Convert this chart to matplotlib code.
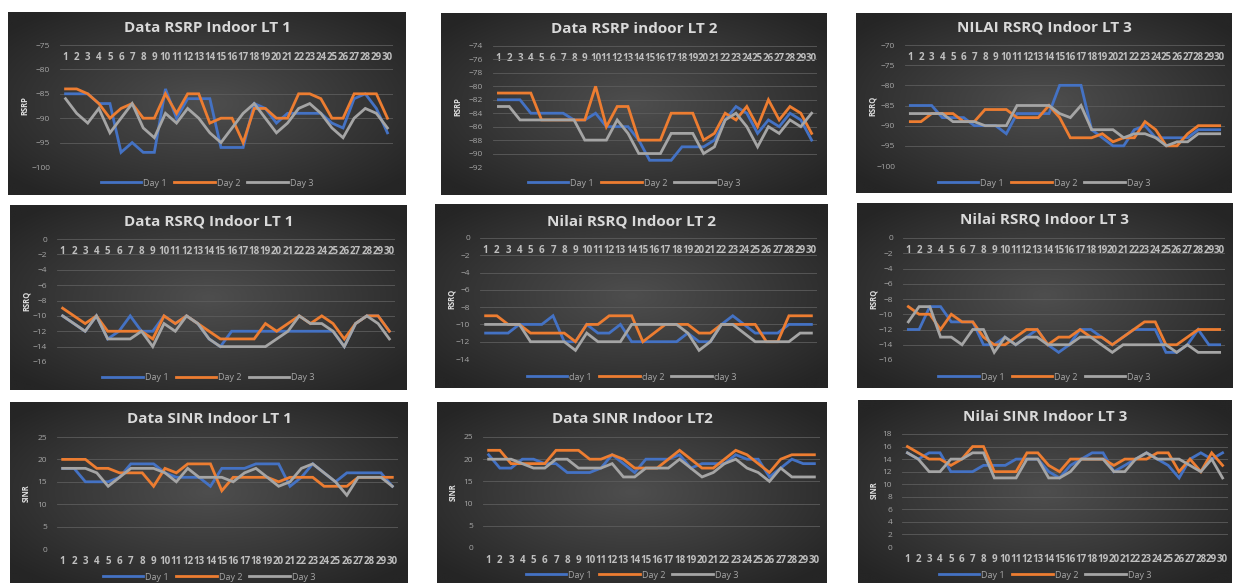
import numpy as np
import matplotlib
matplotlib.use("Agg")
import matplotlib.pyplot as plt
from matplotlib.colors import LinearSegmentedColormap

plt.rcParams['font.family'] = ['Open Sans', 'DejaVu Sans']

# ======================
# data
# ======================
days = list(range(1, 31))
day_labels = ["Day 1", "Day 2", "Day 3"]
day_labels_lower = ["day 1", "day 2", "day 3"]

titles = ["Data RSRP Indoor LT 1", "Data RSRP indoor LT 2", "NILAI RSRQ Indoor LT 3",
          "Data RSRQ Indoor LT 1", "Nilai RSRQ Indoor LT 2", "Nilai RSRQ Indoor LT 3",
          "Data SINR Indoor LT 1", "Data SINR Indoor LT2", "Nilai SINR Indoor LT 3"]
ylabels = ["RSRP", "RSRP", "RSRQ", "RSRQ", "RSRQ", "RSRQ", "SINR", "SINR", "SINR"]

rsrp_lt1_d1 = [-85, -85, -85, -87, -87, -97, -95, -97, -97, -84, -90, -86, -86, -86, -96,
               -96, -96, -87, -88, -91, -89, -89, -89, -89, -91, -92, -86, -85, -88, -93]
rsrp_lt1_d2 = [-84, -84, -85, -87, -90, -88, -87, -90, -90, -85, -89, -85, -85, -91, -90,
               -90, -95, -88, -88, -90, -90, -85, -85, -86, -90, -90, -85, -85, -85, -90]
rsrp_lt1_d3 = [-86, -89, -91, -88, -93, -90, -87, -92, -94, -89, -91, -88, -90, -93, -95,
               -92, -89, -87, -90, -93, -91, -88, -87, -89, -92, -94, -90, -88, -89, -92]

rsrp_lt2_d1 = [-82, -82, -82, -84, -84, -84, -84, -85, -85, -84, -86, -86, -86, -88, -91,
               -91, -91, -89, -89, -89, -88, -85, -83, -84, -87, -85, -86, -84, -85, -88]
rsrp_lt2_d2 = [-81, -81, -81, -81, -85, -85, -85, -85, -85, -80, -86, -83, -83, -88, -88,
               -88, -84, -84, -84, -88, -87, -84, -85, -83, -86, -82, -85, -83, -84, -87]
rsrp_lt2_d3 = [-83, -83, -85, -85, -85, -85, -85, -85, -88, -88, -88, -85, -87, -90, -90,
               -90, -87, -87, -87, -90, -89, -85, -84, -86, -89, -86, -87, -85, -86, -84]

rsrp_lt3_d1 = [-85, -85, -85, -88, -88, -88, -90, -90, -90, -92, -87, -87, -87, -87, -80,
               -80, -80, -91, -93, -95, -95, -91, -90, -93, -93, -93, -93, -91, -91, -91]
rsrp_lt3_d2 = [-89, -89, -87, -87, -87, -89, -89, -86, -86, -86, -88, -88, -88, -85, -88,
               -93, -93, -93, -92, -94, -93, -93, -89, -91, -95, -95, -92, -90, -90, -90]
rsrp_lt3_d3 = [-87, -87, -87, -87, -89, -89, -89, -90, -90, -90, -85, -85, -85, -85, -87,
               -88, -85, -91, -91, -91, -93, -92, -92, -93, -95, -94, -94, -92, -92, -92]

rsrq_lt1_d1 = [-10, -11, -12, -10, -13, -12, -10, -12, -12, -10, -11, -10, -11, -13, -14,
               -12, -12, -12, -12, -12, -12, -12, -12, -12, -12, -14, -11, -10, -10, -12]
rsrq_lt1_d2 = [-9, -10, -11, -10, -12, -12, -12, -12, -13, -10, -11, -10, -11, -12, -13,
               -13, -13, -13, -11, -12, -11, -10, -11, -10, -11, -13, -11, -10, -10, -12]
rsrq_lt1_d3 = [-10, -11, -12, -10, -13, -13, -13, -12, -14, -11, -12, -10, -11, -13, -14,
               -14, -14, -14, -14, -13, -12, -10, -11, -11, -12, -14, -11, -10, -11, -13]

rsrq_lt2_d1 = [-11, -11, -11, -10, -10, -10, -9, -12, -12, -10, -11, -11, -10, -12, -12,
               -12, -12, -12, -11, -12, -12, -10, -9, -10, -11, -11, -11, -10, -10, -10]
rsrq_lt2_d2 = [-9, -9, -10, -10, -11, -11, -11, -11, -12, -10, -10, -9, -9, -9, -12,
               -11, -10, -10, -10, -11, -11, -10, -10, -10, -10, -12, -12, -9, -9, -9]
rsrq_lt2_d3 = [-10, -10, -10, -10, -12, -12, -12, -12, -13, -11, -12, -12, -12, -10, -10,
               -10, -10, -10, -11, -13, -12, -10, -10, -11, -12, -12, -12, -12, -11, -11]

rsrq_lt3_d1 = [-12, -12, -9, -9, -11, -11, -11, -14, -14, -13, -14, -13, -12, -14, -15,
               -14, -12, -12, -13, -14, -13, -12, -12, -12, -15, -15, -14, -12, -14, -14]
rsrq_lt3_d2 = [-9, -10, -10, -12, -10, -11, -11, -13, -14, -14, -13, -12, -12, -14, -13,
               -13, -12, -13, -13, -14, -13, -12, -11, -11, -14, -14, -13, -12, -12, -12]
rsrq_lt3_d3 = [-11, -9, -9, -13, -13, -14, -12, -12, -15, -13, -14, -13, -13, -14, -14,
               -14, -13, -13, -14, -15, -14, -14, -14, -14, -14, -15, -14, -15, -15, -15]

sinr_lt1_d1 = [18, 18, 15, 15, 15, 16, 19, 19, 19, 17, 16, 16, 16, 14, 18,
               18, 18, 19, 19, 19, 14, 16, 19, 17, 15, 17, 17, 17, 17, 14]
sinr_lt1_d2 = [20, 20, 20, 18, 18, 17, 17, 17, 14, 18, 17, 19, 19, 19, 13,
               16, 16, 16, 16, 15, 16, 16, 16, 14, 14, 14, 16, 16, 16, 16]
sinr_lt1_d3 = [18, 18, 18, 17, 14, 16, 18, 18, 18, 17, 15, 18, 16, 16, 16,
               15, 17, 18, 16, 14, 15, 18, 19, 17, 15, 12, 16, 16, 16, 14]

sinr_lt2_d1 = [21, 18, 18, 20, 20, 19, 19, 17, 17, 17, 18, 21, 19, 17, 20,
               20, 20, 21, 18, 19, 19, 19, 21, 20, 20, 16, 18, 20, 19, 19]
sinr_lt2_d2 = [22, 22, 19, 19, 19, 19, 22, 22, 22, 20, 20, 21, 20, 18, 18,
               18, 20, 22, 20, 18, 18, 20, 22, 21, 19, 17, 20, 21, 21, 21]
sinr_lt2_d3 = [20, 20, 20, 19, 18, 18, 20, 20, 18, 18, 18, 19, 16, 16, 18,
               18, 18, 20, 18, 16, 17, 19, 20, 18, 17, 15, 18, 16, 16, 16]

sinr_lt3_d1 = [15, 14, 15, 15, 12, 12, 12, 13, 13, 13, 14, 14, 14, 12, 11,
               13, 14, 15, 15, 12, 13, 14, 15, 14, 13, 11, 14, 15, 14, 15]
sinr_lt3_d2 = [16, 15, 14, 14, 13, 14, 16, 16, 12, 12, 12, 15, 15, 13, 12,
               14, 14, 14, 14, 13, 14, 14, 14, 15, 15, 12, 14, 12, 15, 13]
sinr_lt3_d3 = [15, 14, 12, 12, 14, 14, 15, 15, 11, 11, 11, 14, 14, 11, 11,
               12, 14, 14, 14, 12, 12, 14, 15, 14, 14, 14, 13, 12, 14, 11]

series = [
    (rsrp_lt1_d1, rsrp_lt1_d2, rsrp_lt1_d3),
    (rsrp_lt2_d1, rsrp_lt2_d2, rsrp_lt2_d3),
    (rsrp_lt3_d1, rsrp_lt3_d2, rsrp_lt3_d3),
    (rsrq_lt1_d1, rsrq_lt1_d2, rsrq_lt1_d3),
    (rsrq_lt2_d1, rsrq_lt2_d2, rsrq_lt2_d3),
    (rsrq_lt3_d1, rsrq_lt3_d2, rsrq_lt3_d3),
    (sinr_lt1_d1, sinr_lt1_d2, sinr_lt1_d3),
    (sinr_lt2_d1, sinr_lt2_d2, sinr_lt2_d3),
    (sinr_lt3_d1, sinr_lt3_d2, sinr_lt3_d3),
]

# y range / tick step per chart
y_ranges = [(-100, -75, 5), (-92, -74, 2), (-100, -70, 5),
            (-16, 0, 2), (-14, 0, 2), (-16, 0, 2),
            (0, 25, 5), (0, 25, 5), (0, 18, 2)]

# ======================
# layout (pixels)
# ======================
W, H = 1235, 583
# panel box, plot box (left, top, right, bottom), title y, legend y
panels = [
    ((8, 12, 406, 195), (60, 45, 393, 167), 28, 183),
    ((441, 13, 827, 195), (493, 46, 817, 167), 29, 183),
    ((856, 13, 1232, 193), (905, 45, 1225, 166), 28, 183),
    ((10, 205, 407, 390), (57, 239, 395, 362), 222, 378),
    ((435, 204, 828, 388), (480, 238, 817, 359), 222, 377),
    ((857, 203, 1232, 388), (903, 238, 1225, 360), 220, 377),
    ((10, 402, 408, 583), (57, 437, 398, 549), 419, 577),
    ((437, 402, 827, 583), (483, 437, 820, 548), 419, 575),
    ((858, 400, 1232, 583), (902, 434, 1228, 547), 417, 575),
]

colors = ["#4472C4", "#ED7D31", "#A5A5A5"]
bg_cmap = LinearSegmentedColormap.from_list("bg", ["#4e4e4e", "#3a3a3a", "#252525"])


def frac(box):
    x0, y0, x1, y1 = box
    return [x0 / W, 1 - y1 / H, (x1 - x0) / W, (y1 - y0) / H]


fig = plt.figure(figsize=(W / 100, H / 100), dpi=100)
fig.patch.set_facecolor("white")

# radial background like the Excel dark style
gy, gx = np.mgrid[-1:1:200j, -1:1:400j]
grad = np.clip(np.sqrt(gx ** 2 + gy ** 2) / 1.3, 0, 1)

for i, (pbox, abox, ty, ly) in enumerate(panels):
    bg = fig.add_axes(frac(pbox))
    bg.imshow(grad, cmap=bg_cmap, vmin=0, vmax=1, aspect="auto",
              extent=[0, 1, 0, 1], interpolation="bilinear")
    bg.axis("off")

    ax = fig.add_axes(frac(abox))
    ax.patch.set_alpha(0)
    labels = day_labels_lower if i == 4 else day_labels
    for vals, c, lab in zip(series[i], colors, labels):
        ax.plot(days, vals, color=c, lw=2.0, label=lab, solid_joinstyle="miter")

    lo, hi, step = y_ranges[i]
    ax.set_ylim(lo, hi)
    ax.set_yticks(np.arange(lo, hi + step / 2, step))
    ax.set_xlim(0.5, 30.5)
    ax.set_xticks(days)
    ax.set_xticklabels([str(d) for d in days], fontweight="bold")
    ax.grid(axis="y", color="#5c5c5c", lw=0.6)
    ax.set_axisbelow(True)
    for s in ax.spines.values():
        s.set_visible(False)
    ax.tick_params(axis="y", length=0, labelsize=6, labelcolor="#a6a6a6", pad=7)
    if hi <= 0:
        ax.xaxis.set_ticks_position("top")
        ax.tick_params(axis="x", length=0, labelsize=7, labelcolor="#bfbfbf",
                       labeltop=True, labelbottom=False, pad=-13)
    else:
        ax.tick_params(axis="x", length=0, labelsize=7, labelcolor="#bfbfbf", pad=5)

    ax.set_ylabel(ylabels[i], fontsize=5.5, fontweight="bold", color="#e0e0e0")
    lx = (pbox[0] + 21 - abox[0]) / (abox[2] - abox[0])
    ax.yaxis.set_label_coords(lx, 0.5)

    cx = (pbox[0] + pbox[2]) / 2 / W
    fig.text(cx, 1 - ty / H, titles[i], ha="center", va="center", fontsize=11,
             fontweight="bold", color="#d9d9d9")
    ax.legend(loc="center", bbox_to_anchor=(cx, 1 - ly / H), bbox_transform=fig.transFigure,
              ncol=3, frameon=False, fontsize=6.5, labelcolor="#a6a6a6",
              handlelength=4.5, handletextpad=0.2, columnspacing=0.8)

fig.savefig("out.png", dpi=100, facecolor="white")
